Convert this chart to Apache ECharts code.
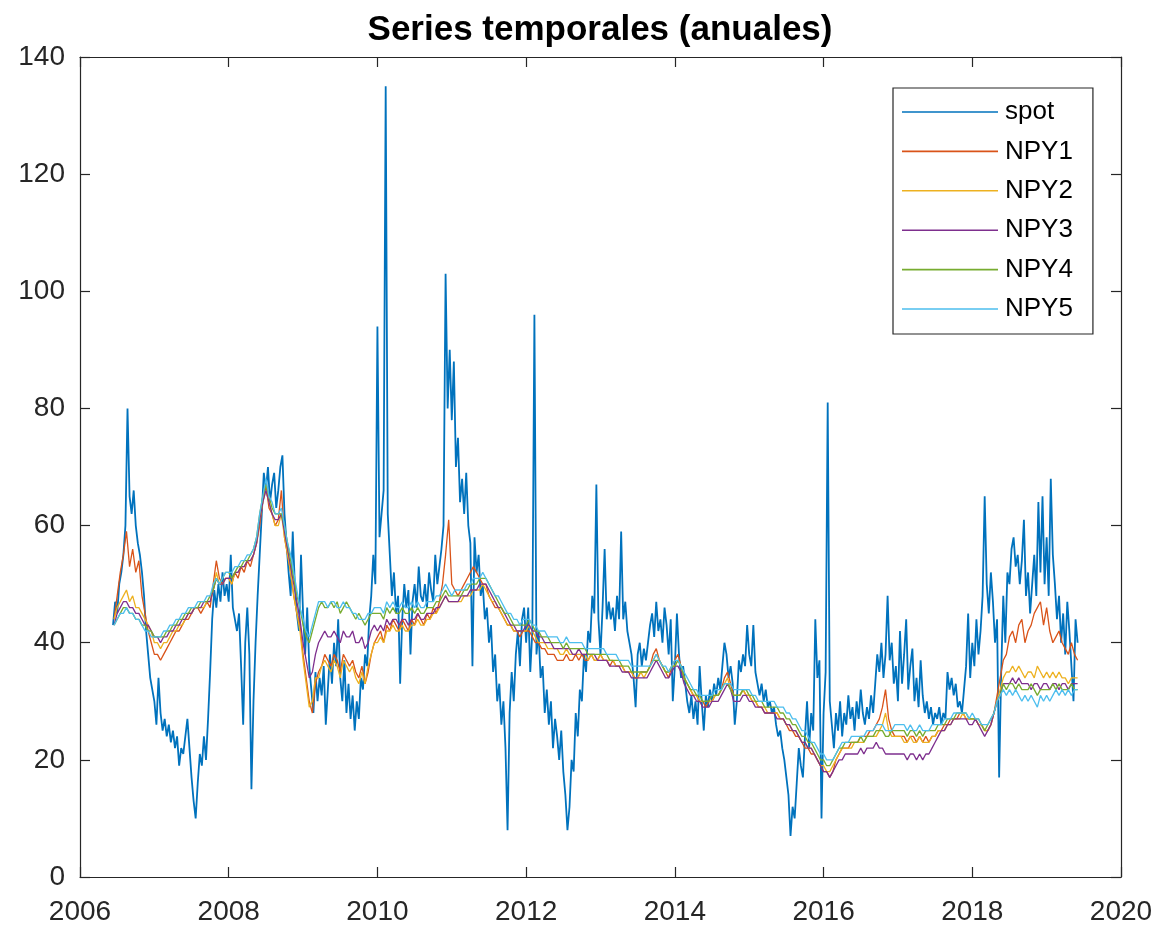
<!DOCTYPE html>
<html>
<head>
<meta charset="utf-8">
<title>Series temporales (anuales)</title>
<script src="https://cdn.jsdelivr.net/npm/echarts@6/dist/echarts.min.js"></script>
<style>
  html, body { margin: 0; padding: 0; background: #ffffff; }
  #chart { width: 1164px; height: 932px; }
</style>
</head>
<body>
<div id="chart"></div>
<script>
// Sampling of each series (decimal years)
const SPOT_START = 2006 + 16 / 36;
const SPOT_STEP = 1 / 36;
const NPY_START = 2006 + 11 / 24;
const NPY_STEP = 1 / 24;

// Axis ticks
const xTicks = [2006, 2008, 2010, 2012, 2014, 2016, 2018, 2020];
const yTicks = [0, 20, 40, 60, 80, 100, 120, 140];

const seriesNames = ['spot', 'NPY1', 'NPY2', 'NPY3', 'NPY4', 'NPY5'];

// spot price, ~10-day samples
const spot = [
  43,47,45,50,52,55,60,80,65,62,66,60,57,55,52,48,42,38,34,32,
  30,26,34,28,25,27,24,26,23,25,22,24,19,22,21,24,27,22,17,13,10,16,21,19,24,20,27,35,44,49,46,50,47,52,48,50,
  47,55,46,44,42,45,36,26,40,46,38,15,30,40,48,55,62,69,66,70,64,67,69,63,66,70,72,62,57,52,48,59,50,45,42,55,
  45,38,46,36,32,28,35,30,34,31,36,26,32,38,33,40,36,44,34,30,37,28,33,27,31,25,30,27,34,32,38,36,44,48,55,50,
  94,58,62,66,135,62,55,48,52,45,48,33,44,50,46,49,38,47,50,46,53,48,47,50,46,52,49,47,55,50,53,56,60,103,80,90,
  78,88,70,75,64,68,62,69,60,57,36,58,52,55,48,50,44,46,40,43,35,38,30,33,26,30,22,8,28,35,30,38,42,36,44,46,
  40,46,35,42,96,38,42,34,36,28,32,26,30,22,27,24,20,25,18,14,8,12,20,18,28,24,32,30,38,35,42,40,48,45,67,44,
  38,46,56,44,47,44,46,42,48,44,59,44,47,42,40,38,34,29,38,40,36,39,37,40,43,45,41,47,42,44,40,46,43,38,44,30,
  36,45,38,34,36,33,30,28,31,27,30,26,36,30,25,31,29,32,30,33,31,34,32,36,40,38,34,36,33,26,30,37,35,38,36,43,
  38,36,43,35,33,31,33,30,32,29,30,28,29,26,24,25,22,20,17,14,7,12,10,16,22,19,17,24,30,22,28,25,44,34,37,10,
  28,35,81,30,26,22,28,25,30,24,28,26,31,27,29,25,30,27,32,28,26,29,27,31,28,33,38,35,40,34,38,48,37,40,33,36,
  30,42,33,38,44,32,36,39,30,34,29,37,31,28,30,27,29,26,28,27,29,26,28,27,35,32,34,31,33,29,30,28,32,36,45,34,
  40,36,44,38,42,48,65,50,45,52,47,40,44,17,35,48,40,52,50,56,58,53,55,50,54,61,48,52,45,50,55,48,64,52,65,50,
  58,48,68,55,50,44,48,40,45,38,47,42,36,30,44,40
];

// Annual contracts, half-month samples
const npy1 = [
  44,48,52,55,59,53,56,52,54,48,45,42,40,
  38,38,37,38,39,40,41,42,42,43,44,44,45,46,46,45,46,47,46,50,54,51,50,51,
  51,50,52,51,53,52,54,53,55,57,60,64,67,63,62,60,61,66,58,55,52,48,45,43,
  38,34,30,28,33,35,36,38,37,36,38,37,35,38,37,36,37,35,34,36,33,35,38,40,
  41,42,40,43,42,44,43,42,44,43,42,44,43,45,44,43,45,44,46,45,47,50,55,61,
  50,49,48,49,50,51,52,53,52,51,50,50,48,47,46,46,45,44,43,43,42,42,41,42,
  42,42,41,40,40,39,39,38,38,38,37,37,37,38,37,37,38,37,38,37,37,38,37,37,
  38,37,37,36,37,36,36,36,35,35,35,34,34,35,35,35,36,38,39,37,36,35,34,36,
  37,38,36,34,33,32,31,31,30,30,29,30,30,31,31,32,34,35,33,31,31,31,32,31,
  31,30,30,29,29,28,28,28,28,28,27,27,26,25,25,24,24,23,22,22,21,21,20,19,
  18,18,17,18,20,21,22,22,22,23,23,23,24,24,24,25,25,26,27,29,32,27,25,24,
  24,24,24,23,24,24,23,24,23,24,23,24,24,25,25,26,26,27,27,27,28,28,27,27,
  27,27,26,26,25,25,26,28,31,34,37,38,41,42,40,43,44,40,42,43,45,46,47,43,
  46,42,40,41,42,40,39,38,40,38,37
];
const npy2 = [
  44,46,47,48,49,47,48,46,46,45,44,43,42,
  40,40,39,40,40,41,42,42,43,43,44,45,45,46,46,46,46,47,47,49,52,50,50,51,
  51,50,52,52,53,53,54,54,55,57,61,64,66,64,62,60,60,62,58,55,52,48,45,42,
  37,33,29,30,34,34,36,37,36,35,37,36,34,37,36,35,36,34,33,35,33,36,38,40,
  40,41,40,42,42,43,42,42,43,42,42,43,43,44,43,43,44,44,45,45,46,47,48,47,
  47,47,47,47,48,48,48,49,49,49,50,49,48,47,47,46,45,44,43,43,42,42,42,42,
  42,43,42,41,40,40,40,39,39,39,39,38,38,39,38,38,38,38,38,38,37,38,37,37,
  38,37,37,37,37,36,36,36,35,35,35,34,34,35,34,35,36,37,38,37,36,35,35,36,
  36,37,36,34,33,32,31,31,30,30,30,30,30,31,31,32,33,34,32,31,31,31,32,31,
  31,30,30,29,29,29,28,28,28,28,27,27,26,26,25,25,24,23,23,22,22,21,20,19,
  19,18,18,19,20,21,22,22,22,22,23,23,23,23,24,24,24,24,25,26,28,25,24,24,
  24,24,23,23,24,23,23,24,23,23,23,24,24,25,25,25,26,26,27,27,27,28,27,27,
  27,27,26,26,25,25,26,28,30,32,34,35,35,36,35,36,35,34,35,35,34,36,35,34,
  35,34,35,34,35,34,34,33,34,34,34
];
const npy3 = [
  43,45,46,47,47,46,46,45,45,44,43,43,42,
  41,41,40,41,41,42,42,43,43,44,44,45,45,46,46,46,47,47,47,49,51,50,50,51,
  51,51,52,52,53,53,54,54,55,57,61,64,66,64,62,61,61,62,59,56,53,50,47,44,
  40,37,34,35,38,40,41,42,41,41,42,41,40,42,41,41,42,40,40,41,39,40,42,43,
  42,43,42,44,43,44,44,43,44,44,43,44,44,45,44,44,45,45,45,46,46,47,48,47,
  47,47,47,48,48,48,49,49,49,50,50,50,49,48,47,46,46,45,44,43,43,42,42,42,
  43,43,42,42,41,41,40,40,40,39,39,39,39,39,39,38,38,39,38,38,38,38,38,37,
  37,37,37,36,36,36,36,35,35,35,34,34,34,34,34,34,35,36,37,36,35,34,34,35,
  36,36,35,33,32,31,31,30,30,29,29,29,30,30,30,31,32,33,32,30,30,30,31,31,
  30,30,29,29,29,28,28,28,28,27,27,27,26,26,25,25,24,23,23,22,22,21,20,19,
  18,18,17,18,19,20,20,21,21,21,21,21,22,21,22,22,22,23,22,22,21,21,21,21,
  21,21,21,20,21,21,20,21,20,21,21,22,23,24,25,25,26,26,27,27,27,27,27,26,
  26,27,26,25,24,25,26,28,30,31,33,33,33,34,33,34,33,33,33,32,33,33,32,33,
  33,32,33,33,32,33,33,32,33,33,33
];
const npy4 = [
  43,44,45,46,46,45,45,44,44,43,43,42,42,
  41,41,41,41,42,42,43,43,44,44,45,45,46,46,46,47,47,47,48,49,51,50,51,52,
  52,51,52,53,53,54,54,55,56,58,62,65,67,65,63,62,62,62,60,57,54,51,48,46,
  43,41,40,42,44,46,47,46,46,47,46,47,45,46,47,46,45,44,45,44,43,44,45,45,
  45,45,44,46,45,46,45,45,46,45,45,46,45,46,45,45,46,46,46,47,47,48,49,48,
  48,48,48,48,49,49,50,50,50,51,51,51,50,49,48,47,46,45,45,44,43,43,43,43,
  43,44,43,42,42,41,41,41,40,40,40,40,39,40,39,39,39,39,39,39,38,38,38,38,
  38,38,38,37,37,37,37,36,36,36,35,35,35,35,35,35,36,37,37,37,36,35,35,36,
  36,37,36,34,33,32,32,31,31,30,30,30,31,31,31,32,33,33,32,31,31,31,32,32,
  31,31,30,30,30,29,29,29,29,29,28,28,27,27,26,26,25,24,24,23,23,22,21,20,
  20,19,19,20,21,22,22,23,23,23,23,23,24,23,24,24,24,25,25,25,24,24,25,25,
  25,25,25,24,25,25,24,25,24,25,25,25,25,26,26,26,27,27,27,28,28,28,28,27,
  27,27,27,26,25,26,27,28,30,31,33,32,33,33,32,33,32,32,32,33,32,31,32,32,
  32,32,33,32,33,32,32,32,33,32,32
];
const npy5 = [
  43,44,45,45,46,45,45,44,44,43,42,42,41,
  41,41,41,42,42,43,43,44,44,45,45,46,46,46,47,47,47,48,48,50,51,50,51,52,
  52,52,53,53,54,54,55,55,56,58,62,65,68,65,64,62,62,63,60,57,55,52,49,46,
  44,42,41,43,45,47,47,47,46,47,47,46,46,47,46,46,45,45,44,44,44,45,45,46,
  46,46,45,47,46,47,46,46,47,46,46,47,46,47,46,46,47,47,47,48,48,49,50,49,
  48,49,49,49,49,50,50,51,51,51,52,51,50,49,48,48,47,46,45,45,44,44,43,44,
  44,44,43,43,42,42,42,41,41,41,41,40,40,41,40,40,40,40,40,39,39,39,39,39,
  39,39,38,38,38,38,37,37,37,37,36,36,36,36,36,36,36,37,38,37,36,36,35,36,
  37,37,36,35,34,33,32,32,31,31,31,31,31,32,32,32,33,33,33,32,32,32,32,32,
  32,31,31,30,30,30,30,30,30,29,29,29,28,28,27,27,26,25,25,24,23,23,22,21,
  21,20,20,20,21,22,23,23,23,24,24,24,24,24,25,25,25,26,26,26,25,25,25,26,
  26,26,26,25,26,25,25,26,25,25,25,26,26,26,26,27,27,27,28,28,28,28,28,27,
  28,27,27,26,26,26,27,28,30,31,32,31,32,31,32,31,30,31,30,31,30,29,31,30,
  31,30,31,32,31,32,31,32,31,32,32
];

const FONT = '"Liberation Sans", Arial, Helvetica, sans-serif';
const AXIS_COLOR = '#262626';
const colors = ['#0072BD', '#D95319', '#EDB120', '#7E2F8E', '#77AC30', '#4DBEEE'];

function toPairs(start, step, values) {
  return values.map((v, i) => [start + i * step, v]);
}

const seriesValues = [spot, npy1, npy2, npy3, npy4, npy5];
const series = seriesValues.map((vals, idx) => ({
  name: seriesNames[idx],
  type: 'line',
  symbol: 'none',
  showSymbol: false,
  clip: true,
  animation: false,
  color: colors[idx],
  lineStyle: { color: colors[idx], width: idx === 0 ? 1.8 : 1.3 },
  data: idx === 0 ? toPairs(SPOT_START, SPOT_STEP, vals) : toPairs(NPY_START, NPY_STEP, vals)
}));

const xMin = xTicks[0], xMax = xTicks[xTicks.length - 1], xStep = xTicks[1] - xTicks[0];
const yMin = yTicks[0], yMax = yTicks[yTicks.length - 1], yStep = yTicks[1] - yTicks[0];

const boxLine = { show: true, onZero: false, lineStyle: { color: AXIS_COLOR, width: 1.2 } };
const tickIn = { show: true, inside: true, length: 10, lineStyle: { color: AXIS_COLOR, width: 1.2 } };

const chart = echarts.init(document.getElementById('chart'), null, { renderer: 'canvas' });
chart.setOption({
  backgroundColor: '#ffffff',
  animation: false,
  textStyle: { fontFamily: FONT },
  grid: { left: 80, right: 43, top: 57, bottom: 55, containLabel: false },
  graphic: [{
    type: 'text',
    x: 600,
    y: 13,
    style: {
      text: 'Series temporales (anuales)',
      textAlign: 'center',
      textVerticalAlign: 'top',
      fill: '#000000',
      font: 'bold 35px ' + FONT
    }
  }],
  legend: {
    orient: 'vertical',
    left: 893,
    top: 88,
    padding: [11, 20, 12, 9],
    icon: 'rect',
    itemWidth: 96,
    itemHeight: 1.6,
    itemGap: 13.4,
    borderColor: AXIS_COLOR,
    borderWidth: 1.2,
    backgroundColor: '#ffffff',
    textStyle: { fontSize: 26, color: '#000000', fontFamily: FONT, lineHeight: 26, padding: [0, 0, 0, 2] },
    data: seriesNames
  },
  xAxis: [
    {
      type: 'value', min: xMin, max: xMax, interval: xStep, position: 'bottom',
      axisLine: boxLine, axisTick: tickIn, splitLine: { show: false },
      axisLabel: { color: AXIS_COLOR, fontSize: 28, fontFamily: FONT, margin: 21, formatter: v => String(v) }
    },
    {
      type: 'value', min: xMin, max: xMax, interval: xStep, position: 'top',
      axisLine: boxLine, axisTick: tickIn, splitLine: { show: false }, axisLabel: { show: false }
    }
  ],
  yAxis: [
    {
      type: 'value', min: yMin, max: yMax, interval: yStep, position: 'left',
      axisLine: boxLine, axisTick: tickIn, splitLine: { show: false },
      axisLabel: { color: AXIS_COLOR, fontSize: 28, fontFamily: FONT, margin: 15, formatter: v => String(v) }
    },
    {
      type: 'value', min: yMin, max: yMax, interval: yStep, position: 'right',
      axisLine: boxLine, axisTick: tickIn, splitLine: { show: false }, axisLabel: { show: false }
    }
  ],
  series: series
});
</script>
</body>
</html>
